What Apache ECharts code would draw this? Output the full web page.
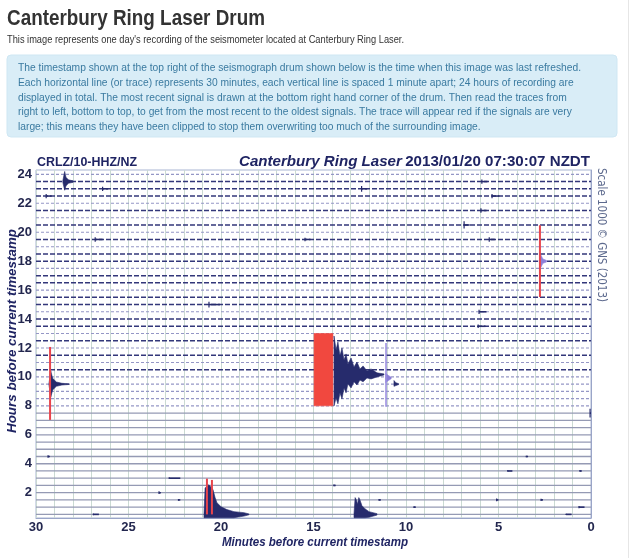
<!DOCTYPE html>
<html><head><meta charset="utf-8">
<script src="https://cdn.jsdelivr.net/npm/echarts@6/dist/echarts.min.js"></script>
<style>html,body{margin:0;padding:0;background:#fff;}#c{width:640px;height:558px;}</style>
</head><body><div id="c"></div>
<script>
// ---------- texts ----------
const pageTitle = 'Canterbury Ring Laser Drum';
const pageSubtitle = "This image represents one day's recording of the seismometer located at Canterbury Ring Laser.";
const infoLines = [
  'The timestamp shown at the top right of the seismograph drum shown below is the time when this image was last refreshed.',
  'Each horizontal line (or trace) represents 30 minutes, each vertical line is spaced 1 minute apart; 24 hours of recording are',
  'displayed in total. The most recent signal is drawn at the bottom right hand corner of the drum. Then read the traces from',
  'right to left, bottom to top, to get from the most recent to the oldest signals. The trace will appear red if the signals are very',
  'large; this means they have been clipped to stop them overwriting too much of the surrounding image.'
];
const stationLabel = 'CRLZ/10-HHZ/NZ';
const drumTitle = 'Canterbury Ring Laser';
const drumTimestamp = '2013/01/20 07:30:07 NZDT';
const scaleNote = 'Scale 1000 \u00A9 GNS (2013)';
const xAxisTitle = 'Minutes before current timestamp';
const yAxisTitle = 'Hours before current timestamp';

// ---------- axes ----------
const xTickLabels = [30, 25, 20, 15, 10, 5, 0];
const yTickLabels = [2, 4, 6, 8, 10, 12, 14, 16, 18, 20, 22, 24];

// ---------- traces (hour of each 30-minute trace, top to bottom) ----------
const traceHours = [24, 23.5, 23, 22.5, 22, 21.5, 21, 20.5, 20, 19.5, 19, 18.5, 18, 17.5, 17, 16.5, 16, 15.5, 15, 14.5,
  14, 13.5, 13, 12.5, 12, 11.5, 11, 10.5, 10, 9.5, 9, 8.5, 8, 7.5, 7, 6.5, 6, 5.5, 5, 4.5, 4, 3.5, 3, 2.5, 2, 1.5, 1, 0.5];
// background noise level read per trace (0 quiet, 1 light, 2 heavy)
const traceNoise = [1, 2, 2, 2, 1, 2, 1, 2, 1, 2, 1, 2, 2, 1, 2, 2, 1, 2, 2, 1,
  2, 2, 1, 2, 1, 2, 1, 2, 1, 1, 1, 1, 1, 0, 0, 0, 0, 0, 0, 0, 0, 0, 0, 0, 0, 0, 0, 0];

// ---------- signals: envelopes [minute, top hour, bottom hour] ----------
const navyEnvelopes = [
  [[28.55, 23.55, 23.45], [28.45, 24.2, 22.9], [28.38, 23.8, 23.2], [28.25, 23.62, 23.38], [28.0, 23.55, 23.45]],
  [[13.89, 12.83, 8.0], [13.78, 11.86, 8.55], [13.68, 12.41, 8.14], [13.57, 11.45, 8.9], [13.46, 12.0, 8.48],
   [13.35, 11.17, 9.24], [13.24, 11.59, 8.9], [13.14, 10.9, 9.52], [12.97, 11.31, 9.24], [12.81, 10.69, 9.66],
   [12.65, 11.03, 9.45], [12.49, 10.55, 9.79], [12.32, 10.76, 9.66], [12.11, 10.41, 9.93], [11.89, 10.55, 9.86],
   [11.57, 10.28, 10.0], [11.19, 10.21, 10.14]],
  [[29.3, 9.55, 9.45], [29.2, 10.4, 8.6], [29.1, 9.9, 9.1], [28.9, 9.65, 9.35], [28.6, 9.56, 9.44], [28.2, 9.52, 9.48]],
  [[10.65, 9.75, 9.35], [10.55, 9.6, 9.4], [10.4, 9.53, 9.47]],
  [[20.92, 0.55, 0.27], [20.86, 2.33, 0.27], [20.65, 2.55, 0.27], [20.43, 2.2, 0.27], [20.32, 1.66, 0.27], [20.22, 1.31, 0.27],
   [20.0, 1.03, 0.27], [19.68, 0.83, 0.27], [19.3, 0.69, 0.27], [18.76, 0.62, 0.38], [18.49, 0.53, 0.47]],
  [[12.81, 0.55, 0.27], [12.75, 1.66, 0.27], [12.68, 1.5, 0.27], [12.62, 1.2, 0.27], [12.55, 1.66, 0.27], [12.49, 1.5, 0.27],
   [12.38, 1.1, 0.27], [12.22, 0.89, 0.27], [12.0, 0.69, 0.3], [11.57, 0.55, 0.45]]
];
const purpleEnvelopes = [
  [[11.1, 10.25, 9.6], [10.95, 10.1, 9.75], [10.8, 9.98, 9.88]],
  [[2.8, 18.05, 17.95], [2.7, 18.4, 17.6], [2.6, 18.15, 17.85], [2.4, 18.05, 17.95]]
];
const clippedBlocks = [
  [[14.97, 13.0, 8.0], [13.95, 13.0, 8.0]]
];
// clipped (red) vertical lines: [minute, from hour, to hour]
const clippedLines = [[29.24, 12.07, 7.03], [2.76, 20.48, 15.52], [20.76, 0.5, 2.97], [20.49, 0.5, 2.88]];
const purpleLines = [[11.08, 12.34, 7.93]];
// small blips: [trace hour, minute, amplitude (h), duration (min)]
const blips = [
  [23, 26.4, 0.15, 0.3], [22.5, 29.45, 0.15, 0.3], [19.5, 26.8, 0.15, 0.4], [19.5, 15.46, 0.12, 0.3],
  [23, 12.4, 0.2, 0.3], [23.5, 5.9, 0.15, 0.3], [22.5, 5.35, 0.15, 0.4], [21.5, 5.95, 0.15, 0.3],
  [20.5, 6.86, 0.25, 0.3], [19.5, 5.5, 0.15, 0.3], [15, 20.65, 0.2, 0.6], [14.5, 6.05, 0.15, 0.4],
  [13.5, 6.1, 0.12, 0.4], [4.5, 29.35, 0.08, 0.1], [2, 23.35, 0.1, 0.1], [3, 22.8, 0.06, 0.6],
  [1.5, 22.3, 0.06, 0.1], [0.5, 26.9, 0.06, 0.3], [4.5, 3.5, 0.06, 0.1], [3.5, 4.5, 0.06, 0.25],
  [3.5, 0.6, 0.06, 0.1], [1.5, 5.1, 0.1, 0.1], [1.5, 2.7, 0.08, 0.1], [1, 0.65, 0.08, 0.3],
  [0.5, 1.35, 0.05, 0.3], [2.5, 13.9, 0.06, 0.1], [1.5, 11.46, 0.06, 0.1], [1, 9.57, 0.06, 0.1], [7.5, 0.05, 0.3, 0.05]
];

// ---------- helpers ----------
const FAM = "'Liberation Sans', Arial, sans-serif";
const mctx = document.createElement('canvas').getContext('2d');
function measure(text, style, weight, fam) { mctx.font = style + ' ' + weight + ' 100px ' + (fam || FAM); return mctx.measureText(text).width; }
// text element with given font size, horizontally scaled to a target width
function fitText(text, x, y, size, target, opts) {
  opts = opts || {};
  const w = measure(text, opts.fontStyle || 'normal', opts.fontWeight || 'normal', opts.fontFamily) * size / 100;
  const s = target / w;
  const el = { type: 'text', x: x, y: y, scaleX: s, scaleY: 1,
    style: Object.assign({ text: text, fontFamily: FAM, fontSize: size, verticalAlign: 'middle' }, opts) };
  if (opts.rotation !== undefined) { el.rotation = opts.rotation; delete el.style.rotation; }
  return el;
}

const NAVY = '#262b6c';
const TEXTNAVY = '#1f2463';
const traceStyles = [
  { color: '#959ab4', width: 1.3, type: 'solid' },
  { color: '#9597c6', width: 1.1, type: [3, 2] },
  { color: '#33377a', width: 1.5, type: [5, 2] }
];

const series = [];
traceHours.forEach((h, i) => {
  const st = traceStyles[traceNoise[i]];
  series.push({ type: 'line', data: [[30, h], [0, h]], symbol: 'none', silent: true, z: 2,
    lineStyle: { color: st.color, width: st.width, type: st.type } });
});
function envSeries(list, color, z) {
  return { type: 'custom', z: z, silent: true,
    data: list.map(p => [p[0][0], p[0][1]]),
    renderItem: (params, api) => {
      const pts = list[params.dataIndex];
      const up = pts.map(p => api.coord([p[0], p[1]]));
      const lo = pts.slice().reverse().map(p => api.coord([p[0], p[2]]));
      return { type: 'polygon', shape: { points: up.concat(lo) }, style: { fill: color, stroke: color, lineWidth: 0.6 } };
    } };
}
series.push(envSeries(clippedBlocks, '#f1483f', 5));
series.push(envSeries(navyEnvelopes, NAVY, 6));
series.push(envSeries(purpleEnvelopes, '#8d80d8', 6));
clippedLines.forEach(l => series.push({ type: 'line', data: [[l[0], l[1]], [l[0], l[2]]], symbol: 'none', silent: true, z: 7,
  lineStyle: { color: '#e8454c', width: 2 } }));
purpleLines.forEach(l => series.push({ type: 'line', data: [[l[0], l[1]], [l[0], l[2]]], symbol: 'none', silent: true, z: 7,
  lineStyle: { color: '#9b8fe0', width: 1.6 } }));
series.push({ type: 'custom', z: 6, silent: true,
  data: blips.map(b => [b[1], b[0]]),
  renderItem: (params, api) => {
    const b = blips[params.dataIndex];
    const t = api.coord([b[1], b[0] + b[2]]), d = api.coord([b[1], b[0] - b[2]]);
    const e = api.coord([b[1] - b[3], b[0]]);
    return { type: 'group', children: [
      { type: 'line', shape: { x1: t[0], y1: t[1], x2: d[0], y2: d[1] }, style: { stroke: NAVY, lineWidth: 1.2 } },
      { type: 'line', shape: { x1: t[0], y1: e[1], x2: e[0], y2: e[1] }, style: { stroke: NAVY, lineWidth: 1.6 } }
    ] };
  } });

// ---------- graphic texts ----------
const drumSize = 100 * 352 / (measure(drumTitle + ' ', 'italic', 'bold') + measure(drumTimestamp, 'normal', 'bold'));
const graphic = [
  { type: 'rect', shape: { x: 628, y: 0, width: 1, height: 558 }, style: { fill: '#e6e6e6' } },
  fitText(pageTitle, 7, 19, 21.5, 258, { fontWeight: 'bold', fill: '#333333' }),
  fitText(pageSubtitle, 7, 40, 11, 397, { fill: '#333333' }),
  { type: 'rect', shape: { x: 7, y: 55, width: 610, height: 82, r: 4 }, style: { fill: '#d9edf7', stroke: '#cfe7f3' } },
  fitText(stationLabel, 37, 162, 13, 100, { fontWeight: 'bold', fill: TEXTNAVY }),
  { type: 'text', x: 590, y: 162, style: { text: '{a|' + drumTitle + '} {b|' + drumTimestamp + '}', align: 'right', verticalAlign: 'middle',
      rich: { a: { fontFamily: FAM, fontWeight: 'bold', fontStyle: 'italic', fontSize: drumSize, fill: TEXTNAVY },
              b: { fontFamily: FAM, fontWeight: 'bold', fontSize: drumSize, fill: TEXTNAVY } } } },
  fitText(scaleNote, 601, 235, 11.5, 134, { fontFamily: "'DejaVu Sans', sans-serif", fill: '#5d6a8e', align: 'center', rotation: -Math.PI / 2 }),
  fitText(xAxisTitle, 315, 543, 12.5, 186, { fontWeight: 'bold', fontStyle: 'italic', fill: TEXTNAVY, align: 'center' }),
  fitText(yAxisTitle, 12.5, 331, 12, 204, { fontWeight: 'bold', fontStyle: 'italic', fill: TEXTNAVY, align: 'center', rotation: Math.PI / 2 })
];
const infoY = [68, 83, 97.5, 112, 126.5];
const infoScaleW = 563;
infoLines.forEach((t, i) => {
  const el = fitText(infoLines[0], 18, infoY[i], 11, infoScaleW, { fill: '#3a7aa0' });
  el.style.text = t;
  graphic.push(el);
});

const chart = echarts.init(document.getElementById('c'), null, { renderer: 'canvas' });
chart.setOption({
  animation: false,
  backgroundColor: '#ffffff',
  grid: { left: 36, right: 49, top: 170, bottom: 40, show: true, borderColor: '#a9b5d3', borderWidth: 1 },
  xAxis: { type: 'value', min: 0, max: 30, interval: 1, inverse: true,
    axisLine: { lineStyle: { color: '#9aa5c8' } }, axisTick: { show: false },
    axisLabel: { margin: 3, fontFamily: FAM, fontWeight: 'bold', fontSize: 13, color: '#23274f',
      formatter: v => xTickLabels.indexOf(v) >= 0 ? String(v) : '' , showMinLabel: true, showMaxLabel: true },
    splitLine: { show: true, lineStyle: { color: '#cbdad3', width: 1 } } },
  yAxis: { type: 'value', min: 0.25, max: 24.3,
    axisLine: { show: true, lineStyle: { color: '#9aa5c8' } }, axisTick: { show: false },
    axisLabel: { customValues: yTickLabels, margin: 4, fontFamily: FAM, fontWeight: 'bold', fontSize: 13, color: '#23274f' },
    splitLine: { show: false } },
  graphic: graphic,
  series: series
});
</script></body></html>
